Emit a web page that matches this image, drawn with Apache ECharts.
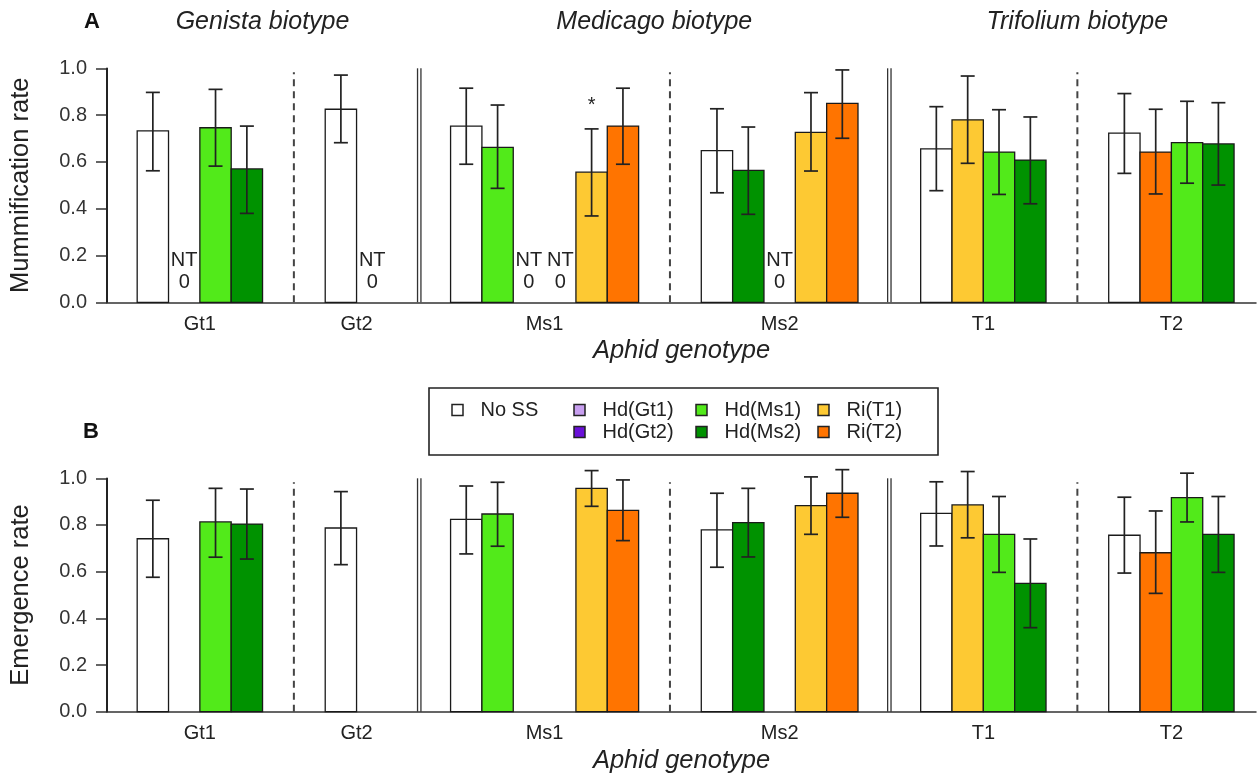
<!DOCTYPE html>
<html><head><meta charset="utf-8">
<script src="https://cdn.jsdelivr.net/npm/echarts@6/dist/echarts.min.js"></script>
<style>html,body{margin:0;padding:0;background:#fff}#c{width:1260px;height:780px}</style>
</head><body><div id="c"></div>
<script>
// ---------------- data ----------------
const groups = ['Gt1', 'Gt2', 'Ms1', 'Ms2', 'T1', 'T2'];
const biotypes = ['Genista biotype', 'Medicago biotype', 'Trifolium biotype'];
const groupBiotype = [0, 0, 1, 1, 2, 2];
const treatments = ['No SS', 'Hd(Gt1)', 'Hd(Gt2)', 'Hd(Ms1)', 'Hd(Ms2)', 'Ri(T1)', 'Ri(T2)'];
const treatmentColors = ['#ffffff', '#c89ff0', '#6a10d8', '#52ea1a', '#009200', '#fdc933', '#ff7400'];
// slot order inside each aphid genotype group
const slotTreatments = [
  ['No SS', 'Hd(Gt1)', 'Hd(Ms1)', 'Hd(Ms2)'],
  ['No SS', 'Hd(Gt2)'],
  ['No SS', 'Hd(Ms1)', 'Hd(Gt1)', 'Hd(Gt2)', 'Ri(T1)', 'Ri(T2)'],
  ['No SS', 'Hd(Ms2)', 'Hd(Gt2)', 'Ri(T1)', 'Ri(T2)'],
  ['No SS', 'Ri(T1)', 'Hd(Ms1)', 'Hd(Ms2)'],
  ['No SS', 'Ri(T2)', 'Hd(Ms1)', 'Hd(Ms2)']
];
// Panel A: mummification rate (null = not tested, NT)
const mummMean = [
  [0.733, null, 0.746, 0.570],
  [0.825, null],
  [0.753, 0.662, null, null, 0.556, 0.753],
  [0.648, 0.564, null, 0.726, 0.850],
  [0.656, 0.780, 0.642, 0.608],
  [0.723, 0.642, 0.682, 0.677]
];
const mummLow = [
  [0.562, null, 0.582, 0.380],
  [0.682, null],
  [0.590, 0.487, null, null, 0.369, 0.590],
  [0.468, 0.376, null, 0.561, 0.701],
  [0.477, 0.594, 0.461, 0.421],
  [0.551, 0.463, 0.509, 0.501]
];
const mummHigh = [
  [0.897, null, 0.910, 0.753],
  [0.971, null],
  [0.915, 0.843, null, null, 0.741, 0.915],
  [0.827, 0.749, null, 0.896, 0.993],
  [0.836, 0.967, 0.823, 0.792],
  [0.892, 0.825, 0.859, 0.853]
];
const mummSignif = [[2, 4, '*']]; // [group, slot, mark]
// Panel B: emergence rate
const emerMean = [
  [0.741, null, 0.813, 0.804],
  [0.787, null],
  [0.824, 0.847, null, null, 0.957, 0.863],
  [0.779, 0.810, null, 0.883, 0.936],
  [0.850, 0.886, 0.760, 0.550],
  [0.756, 0.681, 0.917, 0.760]
];
const emerLow = [
  [0.576, null, 0.662, 0.654],
  [0.630, null],
  [0.676, 0.709, null, null, 0.880, 0.733],
  [0.619, 0.663, null, 0.760, 0.833],
  [0.710, 0.745, 0.597, 0.360],
  [0.594, 0.507, 0.813, 0.597]
];
const emerHigh = [
  [0.906, null, 0.957, 0.954],
  [0.943, null],
  [0.967, 0.983, null, null, 1.033, 0.993],
  [0.936, 0.957, null, 1.006, 1.037],
  [0.985, 1.029, 0.922, 0.740],
  [0.919, 0.860, 1.022, 0.922]
];
const yTicks = [0, 0.2, 0.4, 0.6, 0.8, 1.0];
const legendColumns = [['No SS'], ['Hd(Gt1)', 'Hd(Gt2)'], ['Hd(Ms1)', 'Hd(Ms2)'], ['Ri(T1)', 'Ri(T2)']];

// ---------------- layout (slot units) ----------------
const FONT = 'Liberation Sans, Arial, Helvetica, sans-serif';
const GAP = 2;
const layout = (function () {
  let pos = 0;
  const centers = [], groupCenter = [], groupStart = [], groupEnd = [], seps = [];
  groups.forEach(function (g, gi) {
    const start = pos, cs = [];
    slotTreatments[gi].forEach(function () { cs.push(pos + 0.5); pos += 1; });
    centers.push(cs); groupStart.push(start); groupEnd.push(pos);
    groupCenter.push((start + pos) / 2);
    if (gi < groups.length - 1) {
      seps.push([pos + GAP / 2, groupBiotype[gi + 1] !== groupBiotype[gi] ? 1 : 0]);
      pos += GAP;
    }
  });
  return { centers, groupCenter, groupStart, groupEnd, seps, end: pos };
})();
const biotypeCenters = biotypes.map(function (b, bi) {
  const idx = groupBiotype.map(function (v, i) { return v === bi ? i : -1; }).filter(function (i) { return i >= 0; });
  return [(layout.groupStart[idx[0]] + layout.groupEnd[idx[idx.length - 1]]) / 2, 1];
});
const X_MIN = -0.963, X_MAX = layout.end + 0.70;

function barData(mean, lo, hi) {
  const out = [];
  groups.forEach(function (g, gi) {
    slotTreatments[gi].forEach(function (t, si) {
      const v = mean[gi][si];
      if (v == null) return;
      out.push([layout.centers[gi][si], v, lo[gi][si], hi[gi][si], treatments.indexOf(t)]);
    });
  });
  return out;
}
function ntData(mean) {
  const out = [];
  groups.forEach(function (g, gi) {
    slotTreatments[gi].forEach(function (t, si) {
      if (mean[gi][si] == null) out.push([layout.centers[gi][si], 0]);
    });
  });
  return out;
}

function renderBar(params, api) {
  const x = api.value(0), v = api.value(1), lo = api.value(2), hi = api.value(3), ci = api.value(4);
  const bl = api.coord([x - 0.5, 0]), tr = api.coord([x + 0.5, v]);
  const a = api.coord([x, lo]), b = api.coord([x, hi]);
  const cap = 7;
  const ls = { stroke: '#222', lineWidth: 1.7 };
  return {
    type: 'group', children: [
      { type: 'rect', shape: { x: bl[0], y: tr[1], width: tr[0] - bl[0], height: bl[1] - tr[1] }, style: { fill: treatmentColors[ci], stroke: '#1a1a1a', lineWidth: 1.3 } },
      { type: 'line', shape: { x1: a[0], y1: a[1], x2: b[0], y2: b[1] }, style: ls },
      { type: 'line', shape: { x1: a[0] - cap, y1: a[1], x2: a[0] + cap, y2: a[1] }, style: ls },
      { type: 'line', shape: { x1: b[0] - cap, y1: b[1], x2: b[0] + cap, y2: b[1] }, style: ls }
    ]
  };
}
function renderSep(params, api) {
  const x = api.value(0), dbl = api.value(1);
  const p0 = api.coord([x, 0]), p1 = api.coord([x, 1]);
  if (dbl) {
    return {
      type: 'group', children: [-1.7, 1.7].map(function (d) {
        return { type: 'line', shape: { x1: p0[0] + d, y1: p0[1], x2: p1[0] + d, y2: p1[1] }, style: { stroke: '#333', lineWidth: 1.3 } };
      })
    };
  }
  return { type: 'line', shape: { x1: p0[0], y1: p0[1], x2: p1[0], y2: p1[1] + 4 }, style: { stroke: '#444', lineWidth: 2, lineDash: [7, 5] } };
}
function renderYLine(params, api) {
  const p0 = api.coord([api.value(0), 0]), p1 = api.coord([api.value(0), 1]);
  return { type: 'line', shape: { x1: p0[0], y1: p0[1], x2: p1[0], y2: p1[1] }, style: { stroke: '#222', lineWidth: 1.8 } };
}
function textItem(x, y, text, size, extra) {
  return { type: 'text', x: x, y: y, style: Object.assign({ text: text, fill: '#222', fontSize: size, fontFamily: FONT, align: 'center', verticalAlign: 'middle' }, extra || {}) };
}
function renderGroupLabel(params, api) {
  const p = api.coord([api.value(0), 0]);
  return textItem(p[0], p[1] + 22, groups[params.dataIndex], 20);
}
function renderNT(params, api) {
  const p = api.coord([api.value(0), 0]);
  return { type: 'group', children: [textItem(p[0], p[1] - 42, 'NT', 20), textItem(p[0], p[1] - 20, '0', 20)] };
}
function renderBiotype(params, api) {
  const p = api.coord([api.value(0), api.value(1)]);
  return textItem(p[0], p[1] - 46, biotypes[params.dataIndex], 25, { fontStyle: 'italic' });
}
function renderSig(params, api) {
  const p = api.coord([api.value(0), api.value(1)]);
  return textItem(p[0], p[1] - 23, '*', 20);
}

const grids = [
  { left: 103, right: 4, top: 68.3, height: 234 },
  { left: 103, right: 4, top: 478.3, height: 233.4 }
];
function xAxisFor(i) {
  return {
    type: 'value', gridIndex: i, min: X_MIN, max: X_MAX,
    axisLabel: { show: false }, axisTick: { show: false }, splitLine: { show: false },
    axisLine: { show: true, onZero: false, lineStyle: { color: '#333', width: 1.5 } },
    name: 'Aphid genotype', nameLocation: 'middle', nameGap: 36,
    nameTextStyle: { fontSize: 25.5, fontStyle: 'italic', fontFamily: FONT, color: '#222' }
  };
}
function yAxisFor(i, name) {
  return {
    type: 'value', gridIndex: i, min: 0, max: 1, interval: 0.2,
    axisLine: { show: true, onZero: false, lineStyle: { color: '#222', width: 1.8 } },
    axisTick: { show: true, length: 11, lineStyle: { color: '#333', width: 1.5 } },
    axisLabel: { fontSize: 20, fontFamily: FONT, color: '#333', margin: 20, formatter: function (v) { return v.toFixed(1); } },
    splitLine: { show: false },
    name: name, nameLocation: 'middle', nameGap: 73, nameRotate: 90,
    nameTextStyle: { fontSize: 25.5, fontFamily: FONT, color: '#222' }
  };
}

const series = [];
[[mummMean, mummLow, mummHigh], [emerMean, emerLow, emerHigh]].forEach(function (d, i) {
  series.push({ type: 'custom', xAxisIndex: i, yAxisIndex: i, clip: false, silent: true, renderItem: renderYLine, data: [[X_MIN, 0]], z: 5 });
  series.push({ type: 'custom', xAxisIndex: i, yAxisIndex: i, clip: false, silent: true, renderItem: renderSep, data: layout.seps, z: 2 });
  series.push({ type: 'custom', xAxisIndex: i, yAxisIndex: i, clip: false, silent: true, renderItem: renderBar, data: barData(d[0], d[1], d[2]), z: 3 });
  series.push({ type: 'custom', xAxisIndex: i, yAxisIndex: i, clip: false, silent: true, renderItem: renderGroupLabel, data: layout.groupCenter.map(function (c) { return [c, 0]; }), z: 4 });
});
series.push({ type: 'custom', xAxisIndex: 0, yAxisIndex: 0, clip: false, silent: true, renderItem: renderNT, data: ntData(mummMean), z: 4 });
series.push({ type: 'custom', xAxisIndex: 0, yAxisIndex: 0, clip: false, silent: true, renderItem: renderBiotype, data: biotypeCenters, z: 4 });
series.push({ type: 'custom', xAxisIndex: 0, yAxisIndex: 0, clip: false, silent: true, renderItem: renderSig,
  data: mummSignif.map(function (s) { return [layout.centers[s[0]][s[1]], mummHigh[s[0]][s[1]]]; }), z: 4 });

// legend drawn as graphic
const legendEls = [];
const LX = 457.5, LY = 410, COLW = 122, ROWH = 22;
legendEls.push({ type: 'rect', shape: { x: 429, y: 388, width: 509, height: 67 }, style: { fill: '#fff', stroke: '#222', lineWidth: 1.6 }, z: 10 });
legendColumns.forEach(function (col, ci) {
  col.forEach(function (name, ri) {
    const cx = LX + ci * COLW, cy = LY + ri * ROWH;
    legendEls.push({ type: 'rect', shape: { x: cx - 5.5, y: cy - 5.5, width: 11, height: 11 }, style: { fill: treatmentColors[treatments.indexOf(name)], stroke: '#222', lineWidth: 1.5 }, z: 11 });
    legendEls.push({ type: 'text', x: cx + 23, y: cy, style: { text: name, fontSize: 20, fontFamily: FONT, fill: '#222', align: 'left', verticalAlign: 'middle' }, z: 11 });
  });
});
legendEls.push({ type: 'text', x: 92, y: 22, style: { text: 'A', fontSize: 22, fontWeight: 'bold', fontFamily: FONT, fill: '#111', align: 'center', verticalAlign: 'middle' } });
legendEls.push({ type: 'text', x: 91, y: 432, style: { text: 'B', fontSize: 22, fontWeight: 'bold', fontFamily: FONT, fill: '#111', align: 'center', verticalAlign: 'middle' } });

const chart = echarts.init(document.getElementById('c'), null, { renderer: 'canvas' });
chart.setOption({
  animation: false,
  backgroundColor: '#fff',
  grid: grids,
  xAxis: [xAxisFor(0), xAxisFor(1)],
  yAxis: [yAxisFor(0, 'Mummification rate'), yAxisFor(1, 'Emergence rate')],
  series: series,
  graphic: legendEls
});
</script></body></html>
